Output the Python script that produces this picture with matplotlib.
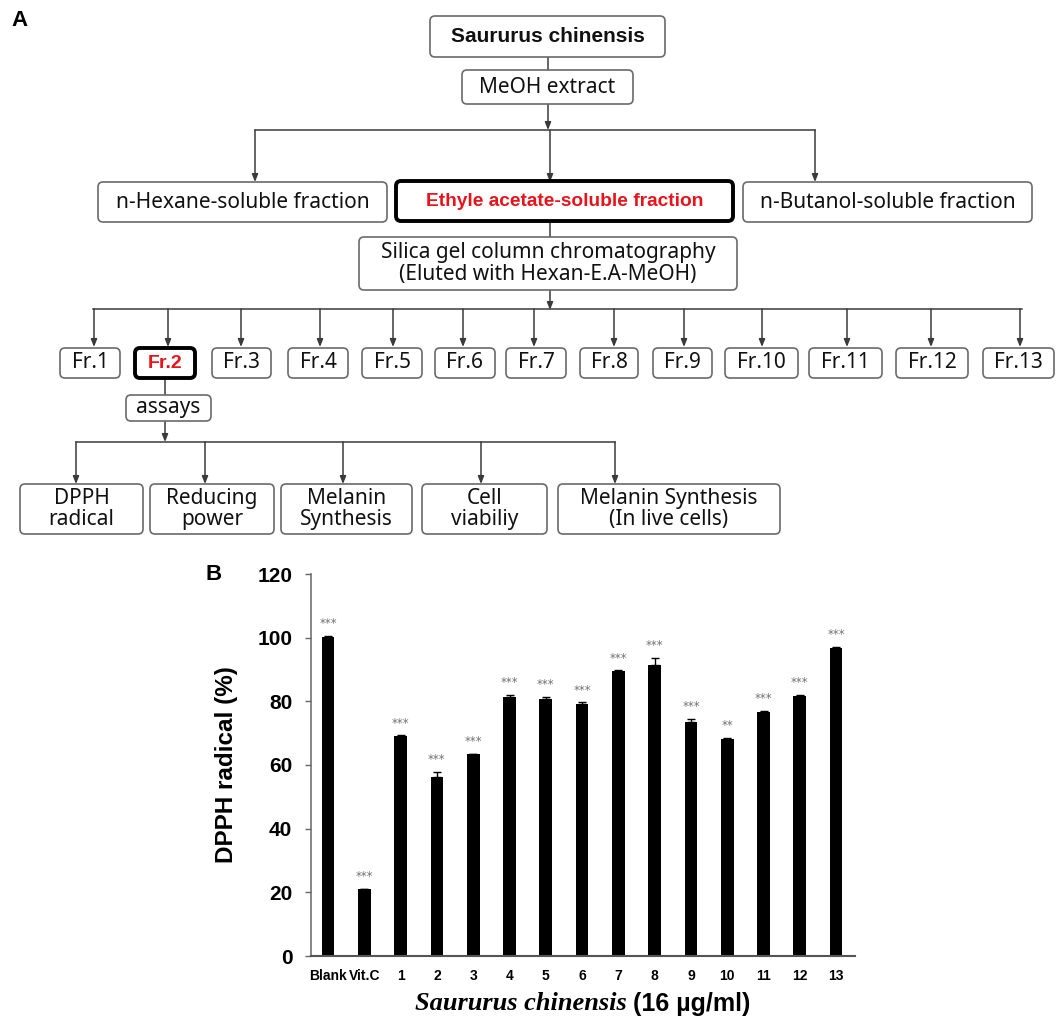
import matplotlib.pyplot as plt
from matplotlib.patches import FancyBboxPatch
import numpy as np

# ---------------- panel A: flowchart labels ----------------
plant_label = "Saururus chinensis"
extract_label = "MeOH extract"
solvent_fractions = ["n-Hexane-soluble fraction",
                     "Ethyle acetate-soluble fraction",
                     "n-Butanol-soluble fraction"]
column_label = "Silica gel column chromatography\n(Eluted with Hexan-E.A-MeOH)"
sub_fractions = ["Fr.1", "Fr.2", "Fr.3", "Fr.4", "Fr.5", "Fr.6", "Fr.7",
                 "Fr.8", "Fr.9", "Fr.10", "Fr.11", "Fr.12", "Fr.13"]
assay_label = "assays"
assays = ["DPPH\nradical", "Reducing\npower", "Melanin\nSynthesis",
          "Cell\nviabiliy", "Melanin Synthesis\n(In live cells)"]
selected_solvent = 1
selected_fraction = 1

# ---------------- panel B: DPPH data ----------------
groups = ["Blank", "Vit.C", "1", "2", "3", "4", "5", "6", "7",
          "8", "9", "10", "11", "12", "13"]
dpph = [100.1, 20.9, 69.1, 56.3, 63.3, 81.3, 80.7, 79.2, 89.5,
        91.5, 73.4, 68.2, 76.8, 81.7, 96.6]
dpph_err = [0.5, 0.3, 0.2, 1.6, 0.2, 0.7, 0.8, 0.5, 0.2,
            2.1, 1.2, 0.3, 0.2, 0.3, 0.5]
stars = ["***"] * 11 + ["**"] + ["***"] * 3

W, H = 1056, 1018
fig = plt.figure(figsize=(W / 100, H / 100), dpi=100)

# overlay in pixel coordinates for the flowchart
fa = fig.add_axes([0, 0, 1, 1])
fa.set_xlim(0, W)
fa.set_ylim(H, 0)
fa.axis("off")

BOX_FONT = ["Noto Sans", "DejaVu Sans"]
BOLD_FONT = ["Liberation Sans", "DejaVu Sans"]
EDGE = "#6a6a6a"
LINE = "#3a3a3a"
RED = "#e8141c"


def box(x0, x1, y0, y1, text, size=15, bold=False, color="#111111", thick=False):
    p = FancyBboxPatch((x0, y0), x1 - x0, y1 - y0,
                       boxstyle="round,pad=0,rounding_size=5",
                       fc="white", ec="black" if thick else EDGE,
                       lw=2.8 if thick else 1.2, zorder=2)
    fa.add_patch(p)
    fa.text((x0 + x1) / 2, (y0 + y1) / 2, text, ha="center", va="center",
            fontsize=size, family=BOLD_FONT if bold else BOX_FONT, color=color,
            fontweight="bold" if bold else "normal",
            linespacing=1.05, zorder=3)


def line(x0, y0, x1, y1):
    fa.plot([x0, x1], [y0, y1], color=LINE, lw=1.1, zorder=1)


def arrow(x, y0, y1):
    fa.annotate("", xy=(x, y1), xytext=(x, y0),
                arrowprops=dict(arrowstyle="-|>,head_length=0.45,head_width=0.18",
                                color=LINE, lw=1.1, shrinkA=0, shrinkB=0), zorder=1)


fa.text(20, 20, "A", fontsize=16, fontweight="bold", family="Liberation Sans",
        ha="center", va="center")

# top of the tree
box(430, 665, 16, 57, plant_label, size=15, bold=True)
line(548, 57, 548, 70)
box(462, 633, 70, 104, extract_label, size=15)
arrow(548, 104, 130)
line(255, 130, 815, 130)

solvent_x = [(98, 387), (396, 733), (743, 1032)]
solvent_arrow_x = [255, 550, 815]
for i, (lab, (x0, x1), xa) in enumerate(zip(solvent_fractions, solvent_x, solvent_arrow_x)):
    arrow(xa, 130, 182)
    if i == selected_solvent:
        box(x0, x1, 181, 221, lab, size=13.8, bold=True, color=RED, thick=True)
    else:
        box(x0, x1, 182, 222, lab, size=15)

line(550, 221, 550, 237)
box(359, 737, 237, 290, column_label, size=15)
arrow(550, 290, 310)
line(93, 309, 1022, 309)

fr_x = [(60, 120), (135, 195), (212, 271), (288, 348), (362, 422), (435, 495),
        (506, 566), (580, 638), (653, 712), (725, 798), (809, 882), (896, 968),
        (983, 1054)]
fr_arrow_x = [94, 168, 241, 320, 393, 463, 534, 614, 684, 762, 847, 931, 1020]
for i, (lab, (x0, x1), xa) in enumerate(zip(sub_fractions, fr_x, fr_arrow_x)):
    arrow(xa, 309, 347)
    if i == selected_fraction:
        box(x0, x1, 348, 378, lab, size=14, bold=True, color=RED, thick=True)
    else:
        box(x0, x1, 348, 378, lab, size=15)

line(165, 378, 165, 395)
box(126, 211, 395, 421, assay_label, size=15)
arrow(165, 421, 442)
line(76, 442, 615, 442)

assay_x = [(20, 143), (150, 274), (281, 412), (422, 547), (558, 780)]
assay_arrow_x = [76, 205, 343, 481, 615]
for lab, (x0, x1), xa in zip(assays, assay_x, assay_arrow_x):
    arrow(xa, 442, 484)
    box(x0, x1, 484, 534, lab, size=15)

# ---------------- panel B ----------------
ax = fig.add_axes([311 / W, 1 - 956 / H, (855 - 311) / W, (956 - 574) / H])
x = np.arange(len(groups))
ax.bar(x, dpph, width=0.35, color="black", zorder=2)
ax.errorbar(x, dpph, yerr=[np.zeros(len(dpph)), dpph_err], fmt="none",
            ecolor="black", elinewidth=1, capsize=3, capthick=1, zorder=3)
for xi, v, e, s in zip(x, dpph, dpph_err, stars):
    ax.text(xi, v + e + 3.8, s, ha="center", va="center", fontsize=8.5,
            color="#707070", family="DejaVu Sans")

ax.set_xlim(-0.47, 14.52)
ax.set_ylim(0, 120)
ax.set_yticks(np.arange(0, 121, 20))
ax.set_xticks(x)
ax.set_xticklabels(groups, fontsize=10, fontweight="bold",
                   family=["Liberation Sans Narrow", "Liberation Sans"])
for t in ax.get_yticklabels():
    t.set_fontsize(15)
    t.set_fontweight("bold")
    t.set_family("Liberation Sans")
ax.tick_params(axis="x", length=0, pad=9)
ax.tick_params(axis="y", length=4.5, width=1, color="#666666", pad=9)
for side in ["top", "right"]:
    ax.spines[side].set_visible(False)
ax.spines["left"].set_color("#666666")
ax.spines["bottom"].set_color("#555555")
ax.spines["left"].set_linewidth(1.1)
ax.spines["bottom"].set_linewidth(1.5)
ax.set_ylabel("DPPH radical (%)", fontsize=17.5, fontweight="bold",
              family="Liberation Sans", labelpad=14)

fa.text(214, 575, "B", fontsize=16, fontweight="bold", family="Liberation Sans",
        ha="center", va="center")
fa.text(627, 1004, "Saururus chinensis", fontsize=19, fontweight="bold",
        style="italic", family="Liberation Serif", ha="right", va="center")
fa.text(633, 1004, "(16 \u00b5g/ml)", fontsize=18, fontweight="bold",
        family="Liberation Sans", ha="left", va="center")

fig.savefig("out.png", dpi=100)
